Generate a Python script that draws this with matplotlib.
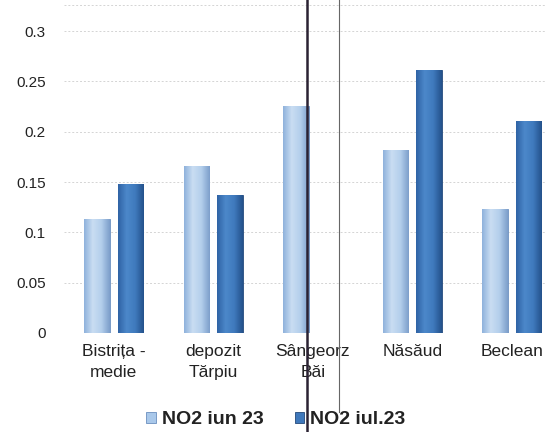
import numpy as np
import matplotlib
matplotlib.use('Agg')
import matplotlib.pyplot as plt
from matplotlib.colors import LinearSegmentedColormap
from matplotlib.lines import Line2D

plt.rcParams['font.family'] = ['Liberation Sans', 'DejaVu Sans']

stations = ['Bistrița -\nmedie', 'depozit\nTărpiu', 'Sângeorz\nBăi', 'Năsăud', 'Beclean']
no2_iun = [0.113, 0.166, 0.226, 0.182, 0.123]
no2_iul = [0.148, 0.137, np.nan, 0.261, 0.211]
series_names = ['NO2 iun 23', 'NO2 iul.23']
yticks = [0, 0.05, 0.1, 0.15, 0.2, 0.25, 0.3]
ytick_labels = ['0', '0.05', '0.1', '0.15', '0.2', '0.25', '0.3']

W, H = 546, 432
fig = plt.figure(figsize=(W / 100, H / 100), dpi=100)
# plot area runs past the right edge (scan is cropped)
ax = fig.add_axes([64 / W, 1 - 333 / H, 497.5 / W, 328 / H])

x = np.arange(len(stations))
bw = 0.256
off = 0.167
b1 = ax.bar(x - off, no2_iun, bw, color='#a9c8ea', edgecolor='#6a8fbf', linewidth=0.6, zorder=3)
b2 = ax.bar(x + off, no2_iul, bw, color='#3f78bb', edgecolor='#24497a', linewidth=0.6, zorder=3)

# cylinder-ish shading on each bar
light_cm = LinearSegmentedColormap.from_list('l', ['#8fb2dc', '#c9ddf2', '#b4cfec', '#7d9fcb'])
dark_cm = LinearSegmentedColormap.from_list('d', ['#2f63a5', '#4c88ca', '#3f7abd', '#25528c'])
grad = np.linspace(0, 1, 64).reshape(1, -1)
for bars, cm in ((b1, light_cm), (b2, dark_cm)):
    for p in bars:
        h = p.get_height()
        if not np.isfinite(h):
            continue
        im = ax.imshow(grad, extent=[p.get_x(), p.get_x() + p.get_width(), 0, h],
                       aspect='auto', cmap=cm, zorder=3.5)
        im.set_clip_path(p)

ax.set_xlim(-0.5, len(stations) - 0.5)
ax.set_ylim(0, 0.326)
ax.set_yticks(yticks)
ax.set_yticklabels(ytick_labels)
ax.yaxis.grid(True, linestyle=(0, (2, 2)), color='#d4d4d4', linewidth=0.7, zorder=0)
ax.axhline(0.326, linestyle=(0, (2, 2)), color='#d4d4d4', linewidth=0.7, zorder=0)
ax.set_axisbelow(True)
for s in ax.spines.values():
    s.set_visible(False)
ax.tick_params(axis='y', length=0, pad=13, labelsize=11, labelcolor='#222222')
ax.tick_params(axis='x', length=0, pad=8, labelsize=12.5, labelcolor='#222222')
ax.set_xticks(x)
ax.set_xticklabels(stations, linespacing=1.45)

fig.legend([b1, b2], series_names, loc='center', bbox_to_anchor=(0.505, 1 - 420 / H),
           ncol=2, frameon=False, handlelength=0.5, handleheight=0.5,
           handletextpad=0.3, columnspacing=1.6,
           prop={'size': 14, 'weight': 'bold'}, labelcolor='#222222')

# scanner streaks
fig.add_artist(Line2D([306.7 / W] * 2, [0, 1], color='#2b2233', linewidth=1.8))
fig.add_artist(Line2D([339.3 / W] * 2, [1 - 412 / H, 1], color='#666666', linewidth=0.8))

fig.savefig('out.png', dpi=100)
